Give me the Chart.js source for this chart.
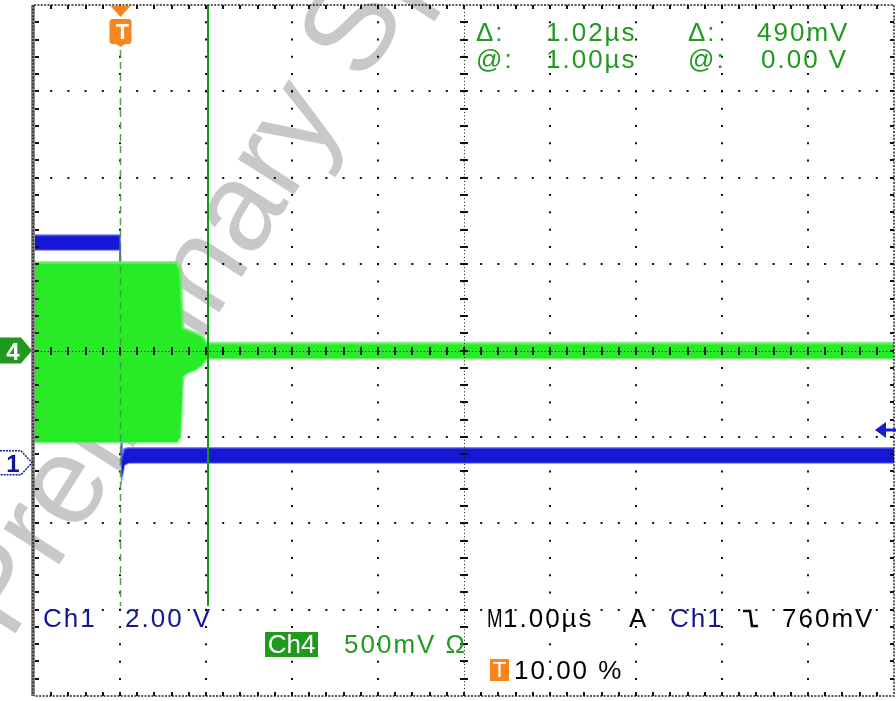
<!DOCTYPE html>
<html>
<head>
<meta charset="utf-8">
<script src="https://cdn.jsdelivr.net/npm/chart.js@4/dist/chart.umd.min.js"></script>
<style>
  body { margin: 0; background: #fff; }
  #wrap { position: relative; width: 896px; height: 701px; overflow: hidden; background: #fff; }
  #scope { position: absolute; left: 0; top: 0; z-index: 1; }
  .wm {
    position: absolute; z-index: 0; white-space: nowrap;
    font: 125px/1 'Liberation Sans', Arial, sans-serif; color: #c8c8c8;
    transform-origin: 0 106px; transform: rotate(-57.6deg);
  }
  .t {
    position: absolute; z-index: 2; white-space: nowrap;
    font: 26px/1 'Liberation Sans', Arial, sans-serif; letter-spacing: 2px;
  }
  .g { color: #1f9a1f; }
  .b { color: #14149a; }
  .k { color: #000; }
  .box { color: #fff; text-align: center; letter-spacing: 0; }
</style>
</head>
<body>
<div id="wrap">
  <div class="wm" style="left:10px;top:536px">Preliminary Spec</div>
  <canvas id="scope" width="896" height="701"></canvas>

  <div class="t g" style="left:476px;top:19px">Δ:</div>
  <div class="t g" style="left:546px;top:19px">1.02µs</div>
  <div class="t g" style="left:688px;top:19px">Δ:</div>
  <div class="t g" style="left:757px;top:19px">490mV</div>
  <div class="t g" style="left:476px;top:46px">@:</div>
  <div class="t g" style="left:546px;top:46px">1.00µs</div>
  <div class="t g" style="left:688px;top:46px">@:</div>
  <div class="t g" style="left:761px;top:46px">0.00 V</div>

  <div class="t b" style="left:43px;top:605px">Ch1</div>
  <div class="t b" style="left:125px;top:605px">2.00 V</div>
  <div class="t box" style="left:265px;top:632px;width:53px;height:25px;line-height:25px;background:#1f9a1f;">Ch4</div>
  <div class="t g" style="left:344px;top:631px">500mV Ω</div>
  <div class="t k" style="left:487px;top:605px;letter-spacing:0;transform:scaleX(0.72);transform-origin:0 0">M</div>
  <div class="t k" style="left:503px;top:605px">1.00µs</div>
  <div class="t k" style="left:629px;top:605px">A</div>
  <div class="t b" style="left:670px;top:605px">Ch1</div>
  <div class="t k" style="left:782px;top:605px">760mV</div>
  <div class="t box" style="left:490px;top:659px;width:19px;height:22px;line-height:22px;font-size:22px;background:#f7861c;">T</div>
  <div class="t k" style="left:514px;top:657px">10.00 %</div>

  <div class="t box" style="left:3px;top:339px;width:20px;height:25px;line-height:25px;font-size:24px;font-weight:bold;">4</div>
  <div class="t box" style="left:3px;top:451px;width:20px;height:25px;line-height:25px;font-size:24px;font-weight:bold;color:#14149a;">1</div>
  <div class="t box" style="left:112px;top:20px;width:21px;height:24px;line-height:24px;font-size:22px;font-weight:bold;">T</div>
</div>

<script>
// time axis in µs (1.00µs/div, trigger at 0)
const triggerTime = 0;
const cursorTime = 1.02;

// Ch1 (2.00 V/div), trace band edges in volts
const ch1Time  = [-1,   0,    0.02,  0.05,  0.1,  9];
const ch1Upper = [5.27, 5.27, 0.10,  0.32,  0.34, 0.34];
const ch1Lower = [4.93, 4.93, -0.35, -0.05, 0.0,  0.0];
const triggerLevel = 0.76;

// Ch4 (500 mV/div), burst envelope in volts
const ch4Time  = [-1,    0.66,  0.70,  0.73,  0.78,  0.88,  0.96,  1.01,   9];
const ch4Upper = [0.51,  0.51,  0.46,  0.13,  0.12,  0.10,  0.08,  0.042,  0.042];
const ch4Lower = [-0.53, -0.53, -0.50, -0.15, -0.13, -0.11, -0.08, -0.045, -0.045];

function pts(xs, ys) {
  return xs.map((t, i) => ({x: t, y: ys[i]}));
}

const scopeDecor = {
  id: 'scopeDecor',
  afterDraw(chart) {
    const {ctx, chartArea: a} = chart;
    const x = chart.scales.x, y = chart.scales.y, y1 = chart.scales.y1;
    ctx.save();

    // trigger position line
    const tx = Math.round(x.getPixelForValue(triggerTime)) + 0.5;
    ctx.strokeStyle = 'rgba(70,150,70,0.9)';
    ctx.lineWidth = 1.5;
    ctx.setLineDash([7, 5]);
    ctx.beginPath(); ctx.moveTo(tx, 50); ctx.lineTo(tx, 606); ctx.stroke();

    // cursor line
    ctx.setLineDash([]);
    const cx = Math.round(x.getPixelForValue(cursorTime));
    ctx.strokeStyle = '#139a13';
    ctx.lineWidth = 2;
    ctx.beginPath(); ctx.moveTo(cx, a.top); ctx.lineTo(cx, 606); ctx.stroke();

    // frame
    ctx.fillStyle = '#8c8c8c';
    ctx.fillRect(a.left - 3, a.top, 4, a.bottom - a.top);
    ctx.strokeStyle = '#222';
    ctx.lineWidth = 1.5;
    ctx.setLineDash([2, 1.4]);
    ctx.beginPath();
    ctx.moveTo(a.left, a.top); ctx.lineTo(a.right, a.top);
    ctx.lineTo(a.right, a.bottom); ctx.lineTo(a.left, a.bottom);
    ctx.moveTo(a.left - 1, a.top); ctx.lineTo(a.left - 1, a.bottom);
    ctx.stroke();
    ctx.setLineDash([]);

    // minor ticks on the edges and on the centre cross
    const mx = Math.round(x.getPixelForValue(4));
    const my = Math.round(y.getPixelForValue(0));
    ctx.fillStyle = '#111';
    for (let i = 1; i < 50; i++) {
      const px = Math.round(x.getPixelForValue(-1 + i * 0.2));
      ctx.fillRect(px - 1, a.top, 2, 4);
      ctx.fillRect(px - 1, a.bottom - 4, 2, 4);
      ctx.fillRect(px - 1, my - 4, 2, 8);
    }
    for (let j = 1; j < 40; j++) {
      const py = Math.round(y.getPixelForValue(-2 + j * 0.1));
      ctx.fillRect(a.left + 1, py - 1, 4, 2);
      ctx.fillRect(a.right - 4, py - 1, 4, 2);
      ctx.fillRect(mx - 4, py - 1, 8, 2);
    }
    ctx.strokeStyle = '#111';
    ctx.lineWidth = 1;
    ctx.setLineDash([1, 2.45]);
    ctx.beginPath();
    ctx.moveTo(a.left, my + 0.5); ctx.lineTo(a.right, my + 0.5);
    ctx.moveTo(mx + 0.5, a.top); ctx.lineTo(mx + 0.5, a.bottom);
    ctx.stroke();
    ctx.setLineDash([]);

    // channel ground markers
    const g4 = y.getPixelForValue(0);
    ctx.fillStyle = '#1f9a1f';
    ctx.beginPath();
    ctx.moveTo(0, g4 - 13); ctx.lineTo(21, g4 - 13); ctx.lineTo(a.left - 2, g4);
    ctx.lineTo(21, g4 + 13); ctx.lineTo(0, g4 + 13); ctx.closePath();
    ctx.fill();

    const g1 = y1.getPixelForValue(0);
    ctx.fillStyle = '#fff';
    ctx.strokeStyle = '#1a1aa0';
    ctx.lineWidth = 1.5;
    ctx.setLineDash([2, 1]);
    ctx.beginPath();
    ctx.moveTo(0, g1 - 12); ctx.lineTo(21, g1 - 12); ctx.lineTo(a.left - 2, g1);
    ctx.lineTo(21, g1 + 12); ctx.lineTo(0, g1 + 12);
    ctx.fill(); ctx.stroke();
    ctx.setLineDash([]);

    // trigger level arrow
    const tl = Math.round(y1.getPixelForValue(triggerLevel));
    ctx.fillStyle = '#1a1ad0';
    ctx.beginPath();
    ctx.moveTo(875, tl); ctx.lineTo(886, tl - 8); ctx.lineTo(886, tl + 8); ctx.closePath();
    ctx.fill();
    ctx.fillRect(884, tl - 1.5, 12, 3);

    // trigger position marker
    ctx.fillStyle = '#f7861c';
    ctx.beginPath();
    ctx.moveTo(tx - 10, a.top + 1); ctx.lineTo(tx + 10, a.top + 1); ctx.lineTo(tx, a.top + 12); ctx.closePath();
    ctx.fill();
    ctx.beginPath();
    ctx.roundRect(tx - 11, 19, 22, 25, 3);
    ctx.fill();
    ctx.beginPath();
    ctx.moveTo(tx - 6, 43); ctx.lineTo(tx + 6, 43); ctx.lineTo(tx, 47); ctx.closePath();
    ctx.fill();

    // falling slope symbol
    ctx.strokeStyle = '#000';
    ctx.lineWidth = 2.5;
    ctx.beginPath();
    ctx.moveTo(743, 611); ctx.lineTo(750, 611); ctx.lineTo(752, 626); ctx.lineTo(758, 626);
    ctx.stroke();

    ctx.restore();
  }
};

const edgeHidden = (last) => (c) => (c.index === 0 || c.index === last) ? 'rgba(0,0,0,0)' : '#111';

new Chart(document.getElementById('scope'), {
  type: 'line',
  data: {
    datasets: [
      {
        data: pts(ch4Time, ch4Upper), yAxisID: 'y',
        borderColor: 'rgba(95,238,95,0.75)', borderWidth: 3,
        backgroundColor: 'rgb(40,235,40)', fill: '+1',
        pointRadius: 0, tension: 0
      },
      {
        data: pts(ch4Time, ch4Lower), yAxisID: 'y',
        borderColor: 'rgba(95,238,95,0.75)', borderWidth: 3,
        fill: false, pointRadius: 0, tension: 0
      },
      {
        data: pts(ch1Time, ch1Upper), yAxisID: 'y1',
        borderColor: 'rgba(80,80,232,0.7)', borderWidth: 2,
        backgroundColor: 'rgb(22,22,215)', fill: '+1',
        pointRadius: 0, tension: 0
      },
      {
        data: pts(ch1Time, ch1Lower), yAxisID: 'y1',
        borderColor: 'rgba(80,80,232,0.7)', borderWidth: 2,
        fill: false, pointRadius: 0, tension: 0
      }
    ]
  },
  options: {
    responsive: false,
    animation: false,
    devicePixelRatio: 1,
    events: [],
    layout: { padding: { left: 34, right: 2, top: 5, bottom: 5 } },
    plugins: { legend: { display: false }, tooltip: { enabled: false } },
    scales: {
      x: {
        type: 'linear', min: -1, max: 9, z: 1,
        ticks: { display: false, stepSize: 1 },
        grid: { drawTicks: false, lineWidth: 2, color: edgeHidden(10) },
        border: { display: false, dash: [2, 15.28], dashOffset: 1 }
      },
      y: {
        min: -2, max: 2, z: 1,
        ticks: { display: false, stepSize: 0.5 },
        grid: { drawTicks: false, lineWidth: 2, color: edgeHidden(8) },
        border: { display: false, dash: [2, 15.2], dashOffset: 1 }
      },
      y1: { display: false, min: -5.4, max: 10.6 }
    }
  },
  plugins: [scopeDecor]
});
</script>
</body>
</html>
